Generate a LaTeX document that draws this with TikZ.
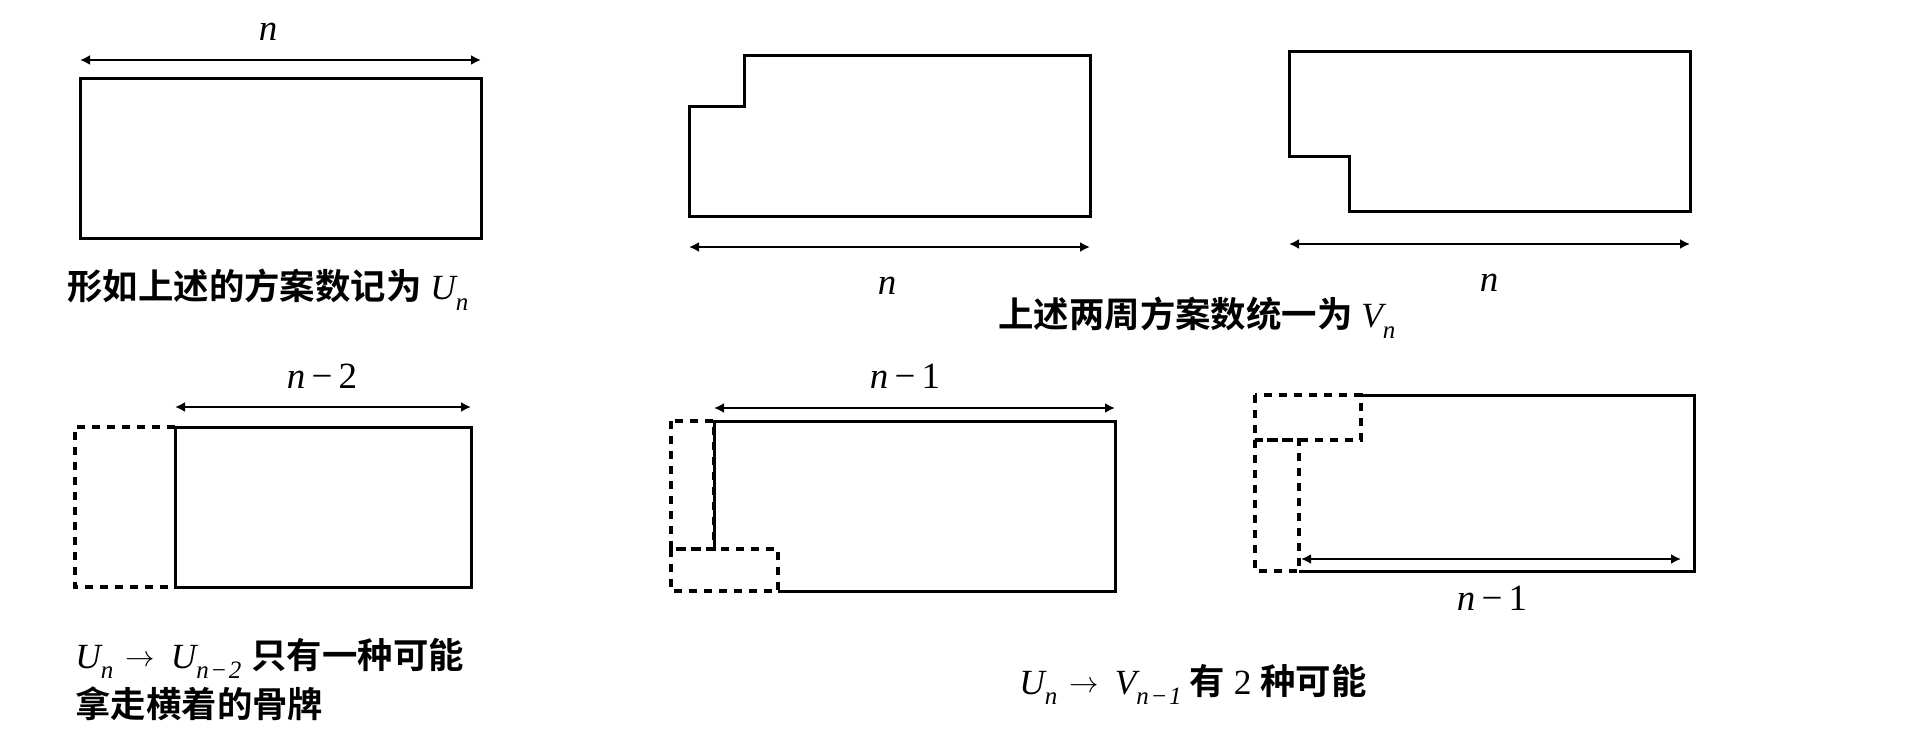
\documentclass[tikz,border=0pt]{standalone}
\usepackage{fontspec}
\setmainfont{Liberation Serif}
\newfontfamily\cjk{Noto Sans CJK SC Bold}
\usetikzlibrary{arrows.meta}
\newcommand{\mysub}[1]{\raisebox{-0.65ex}{\fontsize{12.5pt}{12.5pt}\selectfont\itshape #1}}
\newcommand{\mymi}{\,\textminus\,}
\newcommand{\submi}{\hspace{0.8pt}\textminus\hspace{0.8pt}}
\newcommand{\myto}{\hspace{6pt}\raisebox{0.1ex}{\scalebox{0.85}{$\rightarrow$}}\hspace{8pt}}
\begin{document}
\begin{tikzpicture}[x=0.5pt,y=-0.5pt,
  outline/.style={line width=1.5pt, line join=miter},
  dashbox/.style={line width=2pt, dash pattern=on 4pt off 3.5pt},
  dimline/.style={line width=1.1pt, {Latex[length=5pt,width=5pt]}-{Latex[length=5pt,width=5pt]}},
  lbl/.style={inner sep=0pt, anchor=base, font=\fontsize{18.5pt}{20pt}\selectfont},
  captext/.style={inner sep=0pt, anchor=base west, font=\fontsize{17.7pt}{21pt}\selectfont}]
\useasboundingbox (0,0) rectangle (1920,753);

% ---------- U_n ----------
\draw[outline] (80,79) rectangle (481,239);
\coordinate (u1) at (80,60); \coordinate (u2) at (481,60);
\draw[dimline] (u1) -- (u2);
\node[lbl] (un) at (268,41) {\itshape n};
\node[captext] (capU) at (67,300) {{\cjk 形如上述的方案数记为} {\itshape U}\mysub{n}};

% ---------- V_n (1) ----------
\draw[outline] (744,56) -- (1090,56) -- (1090,217) -- (689,217) -- (689,107) -- (744,107) -- cycle;
\coordinate (v1a) at (689,247); \coordinate (v1b) at (1090,247);
\draw[dimline] (v1a) -- (v1b);
\node[lbl] (vn1) at (887,295) {\itshape n};

% ---------- V_n (2) ----------
\draw[outline] (1289,52) -- (1690,52) -- (1690,212) -- (1349,212) -- (1349,157) -- (1289,157) -- cycle;
\coordinate (v2a) at (1289,244); \coordinate (v2b) at (1690,244);
\draw[dimline] (v2a) -- (v2b);
\node[lbl] (vn2) at (1489,292) {\itshape n};
\node[captext] (capV) at (998,328) {{\cjk 上述两周方案数统一为} {\itshape V}\mysub{n}};

% ---------- U_n -> U_{n-2} ----------
\draw[dashbox] (175,427) -- (75,427) -- (75,587) -- (175,587);
\draw[outline] (175,427) rectangle (471,587);
\coordinate (w0a) at (175,407); \coordinate (w0b) at (471,407);
\draw[dimline] (w0a) -- (w0b);
\node[lbl] (n2) at (322,388) {{\itshape n}\mymi 2};
\node[captext] (capA1) at (75,668) {{\itshape U}\mysub{n}\myto{\itshape U}\mysub{n\submi 2}\hspace{5pt}{\cjk 只有一种可能}};
\node[captext] (capA2) at (75,717) {\cjk 拿走横着的骨牌};

% ---------- U_n -> V_{n-1} (1) ----------
\draw[dashbox] (671,421) rectangle (714,549);
\draw[dashbox] (671,549) rectangle (778,591);
\draw[outline] (714,549) -- (714,421) -- (1115,421) -- (1115,591) -- (778,591);
\coordinate (w1a) at (714,408); \coordinate (w1b) at (1115,408);
\draw[dimline] (w1a) -- (w1b);
\node[lbl] (n1a) at (905,388) {{\itshape n}\mymi 1};

% ---------- U_n -> V_{n-1} (2) ----------
\draw[dashbox] (1255,395) rectangle (1361,440);
\draw[dashbox] (1255,440) rectangle (1299,571);
\draw[outline] (1361,395) -- (1694,395) -- (1694,571) -- (1299,571);
\coordinate (w2a) at (1301,559); \coordinate (w2b) at (1681,559);
\draw[dimline] (w2a) -- (w2b);
\node[lbl] (n1b) at (1492,610) {{\itshape n}\mymi 1};
\node[captext] (capB) at (1019,694) {{\itshape U}\mysub{n}\myto{\itshape V}\mysub{n\submi 1}\hspace{4pt}{\cjk 有} 2 {\cjk 种可能}};
\end{tikzpicture}
\end{document}
